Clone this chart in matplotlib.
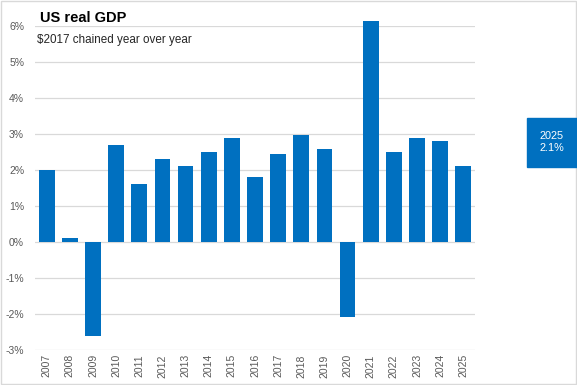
import matplotlib.pyplot as plt
from matplotlib.patches import Rectangle

years = [str(y) for y in range(2007, 2026)]
growth = [2.0, 0.1, -2.6, 2.7, 1.6, 2.3, 2.1, 2.5, 2.9, 1.8, 2.45, 2.97, 2.58,
          -2.08, 6.15, 2.5, 2.9, 2.8, 2.1]
y_ticks = [-3, -2, -1, 0, 1, 2, 3, 4, 5, 6]

blue = '#0070C0'
grey_txt = '#595959'

plt.rcParams['font.family'] = ['Liberation Sans', 'DejaVu Sans']

fig = plt.figure(figsize=(5.77, 3.85), dpi=100)
ax = fig.add_axes([0.061, 0.091, 0.762, 0.841])

ax.bar(range(len(years)), growth, width=0.68, color=blue, zorder=3, clip_on=False)

ax.set_xlim(-0.5, len(years) - 0.5)
ax.set_ylim(-3, 6)
ax.set_yticks(y_ticks)
ax.set_yticklabels([f'{t}%' for t in y_ticks])
ax.set_xticks(range(len(years)))
ax.set_xticklabels(years, rotation=90)
ax.grid(axis='y', color='#D9D9D9', linewidth=0.9, zorder=0)
for s in ax.spines.values():
    s.set_visible(False)
ax.tick_params(length=0, colors=grey_txt, labelsize=7.5)
ax.tick_params(axis='y', pad=8)
ax.tick_params(axis='x', pad=3)

fig.text(0.069, 0.952, 'US real GDP', fontsize=10.5, fontweight='bold',
         color='black', va='center')
fig.text(0.064, 0.896, '$2017 chained year over year', fontsize=8.4,
         color='#262626', va='center')

# callout box for latest year
fig.patches.append(Rectangle((527 / 577, 1 - 167 / 385), 50 / 577, 49 / 385,
                             transform=fig.transFigure, color=blue, zorder=5))
fig.text(552 / 577, 1 - 142 / 385, f'{years[-1]}\n{growth[-1]:.1f}%',
         color='white', ha='center', va='center', fontsize=7.8,
         linespacing=1.3, zorder=6)

# figure border
fig.patches.append(Rectangle((0.001, 0.002), 0.997, 0.995, transform=fig.transFigure,
                             fill=False, edgecolor='#D9D9D9', linewidth=1))

fig.savefig('out.png', dpi=100)
